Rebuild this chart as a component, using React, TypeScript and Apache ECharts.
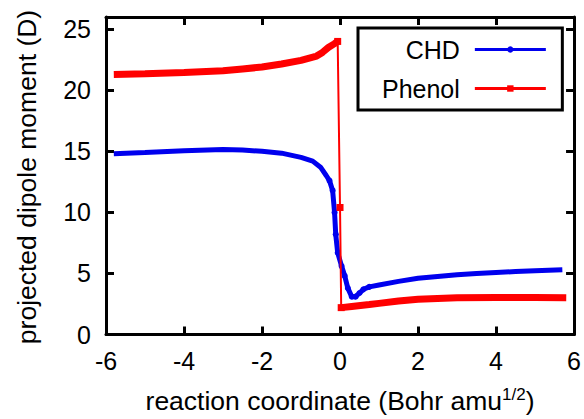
import React, { useEffect, useRef } from "react";
import * as echarts from "echarts";

// CHD: projected dipole moment (D) vs reaction coordinate
const chdX = [-5.8, -5.0, -4.0, -3.0, -2.5, -2.0, -1.5, -1.0, -0.7, -0.5, -0.35, -0.27, -0.19, -0.14, -0.11, -0.06, 0.04, 0.12, 0.2, 0.3, 0.4, 0.5, 0.6, 0.75, 1.0, 1.5, 2.0, 2.5, 3.0, 3.5, 4.0, 4.5, 5.0, 5.7];
const chdY = [14.8, 14.9, 15.05, 15.15, 15.1, 15.0, 14.85, 14.5, 14.2, 13.7, 13.0, 12.6, 11.8, 10.0, 8.2, 6.7, 5.6, 4.8, 3.8, 3.1, 3.1, 3.4, 3.7, 3.9, 4.05, 4.35, 4.6, 4.75, 4.9, 5.0, 5.08, 5.15, 5.22, 5.3];

// Phenol
const phenolX = [-5.8, -5.0, -4.0, -3.0, -2.5, -2.0, -1.5, -1.0, -0.6, -0.45, -0.3, -0.15, -0.06, 0.0, 0.03, 0.3, 0.75, 1.0, 1.5, 2.0, 2.5, 3.0, 4.0, 5.0, 5.8];
const phenolY = [21.3, 21.35, 21.45, 21.6, 21.75, 21.9, 22.15, 22.45, 22.8, 23.1, 23.5, 23.8, 24.0, 10.4, 2.2, 2.3, 2.45, 2.55, 2.75, 2.88, 2.95, 3.0, 3.02, 3.02, 3.0];
const phenolDropStart = 12; // index of last point before the jump
const phenolDropEnd = 14; // index of first point after the jump

const xTicks = [-6, -4, -2, 0, 2, 4, 6];
const yTicks = [0, 5, 10, 15, 20, 25];
const yAxisTitle = "projected dipole moment (D)";

const FONT = "'Liberation Sans', Arial, Helvetica, sans-serif";

export default function App() {
  const ref = useRef<HTMLDivElement>(null);
  useEffect(() => {
    if (!ref.current) return;
    const chart = echarts.init(ref.current, null, { renderer: "svg" });
    const chd = chdX.map((x, i) => [x, chdY[i]]);
    const pts = phenolX.map((x, i) => [x, phenolY[i]]);
    const phenolMain = [
      ...pts.slice(0, phenolDropStart + 1),
      [null, null],
      ...pts.slice(phenolDropEnd),
    ];
    const phenolDrop = pts.slice(phenolDropStart, phenolDropEnd + 1);

    const axisLine = { show: true, onZero: false, lineStyle: { color: "#000", width: 3 } };
    const tick = { show: true, inside: true, length: 8, lineStyle: { color: "#000", width: 3 } };
    const xBase = {
      type: "value" as const,
      min: xTicks[0],
      max: xTicks[xTicks.length - 1],
      interval: 2,
      splitLine: { show: false },
      axisLine,
      axisTick: tick,
    };
    const yBase = {
      type: "value" as const,
      min: 0,
      max: 26,
      interval: 5,
      splitLine: { show: false },
      axisLine,
      axisTick: tick,
    };

    chart.setOption({
      animation: false,
      backgroundColor: "#fff",
      textStyle: { fontFamily: FONT },
      grid: { left: 106, right: 9, top: 17, bottom: 82 },
      graphic: [
        {
          type: "text",
          x: 27,
          y: 177,
          rotation: Math.PI / 2,
          style: {
            text: yAxisTitle,
            fontSize: 26.5,
            fontFamily: FONT,
            fill: "#000",
            align: "center",
            verticalAlign: "middle",
          },
        },
      ],
      xAxis: [
        {
          ...xBase,
          position: "bottom",
          axisLabel: { color: "#000", fontSize: 25, fontFamily: FONT, margin: 14 },
          name: "{a|reaction coordinate (Bohr amu}{s|1/2}{a|)}",
          nameLocation: "middle",
          nameGap: 51,
          nameTextStyle: {
            rich: {
              a: { fontSize: 26.5, fontFamily: FONT, color: "#000", lineHeight: 30 },
              s: { fontSize: 17, fontFamily: FONT, color: "#000", lineHeight: 14, verticalAlign: "top" },
            },
          },
        },
        { ...xBase, position: "top", axisLabel: { show: false } },
      ],
      yAxis: [
        {
          ...yBase,
          position: "left",
          axisLabel: {
            color: "#000",
            fontSize: 25,
            fontFamily: FONT,
            margin: 15,
            formatter: (v: number) => (yTicks.includes(v) ? String(v) : ""),
          },
        },
        { ...yBase, position: "right", axisLabel: { show: false } },
      ],
      legend: {
        data: ["CHD", "Phenol"],
        orient: "vertical",
        align: "right",
        left: 358,
        top: 28,
        padding: [9, 15, 9, 24],
        itemGap: 14,
        itemWidth: 71,
        itemHeight: 8,
        borderColor: "#000",
        borderWidth: 3,
        backgroundColor: "#fff",
        lineStyle: { width: 3 },
        textStyle: { fontSize: 25, fontFamily: FONT, color: "#000", lineHeight: 25, padding: [0, 10, 0, 0] },
      },
      series: [
        {
          name: "CHD",
          type: "line",
          data: chd,
          color: "#0000ee",
          symbol: "circle",
          symbolSize: (v: number[]) => (v[0] > -0.3 && v[0] < 0.9 ? 6 : 0),
          lineStyle: { width: 5, color: "#0000ee" },
          itemStyle: { color: "#0000ee" },
          z: 3,
        },
        {
          name: "Phenol",
          type: "line",
          data: phenolMain,
          color: "#ff0000",
          symbol: "rect",
          showSymbol: false,
          connectNulls: false,
          lineStyle: { width: 7, color: "#ff0000" },
          itemStyle: { color: "#ff0000" },
          z: 4,
        },
        {
          name: "PhenolJump",
          type: "line",
          data: phenolDrop,
          color: "#ff0000",
          symbol: "rect",
          symbolSize: 7,
          lineStyle: { width: 2, color: "#ff0000" },
          itemStyle: { color: "#ff0000" },
          z: 4,
        },
      ],
    });
    return () => chart.dispose();
  }, []);
  return <div ref={ref} style={{ width: 584, height: 419, position: "absolute", left: 0, top: 0 }} />;
}
